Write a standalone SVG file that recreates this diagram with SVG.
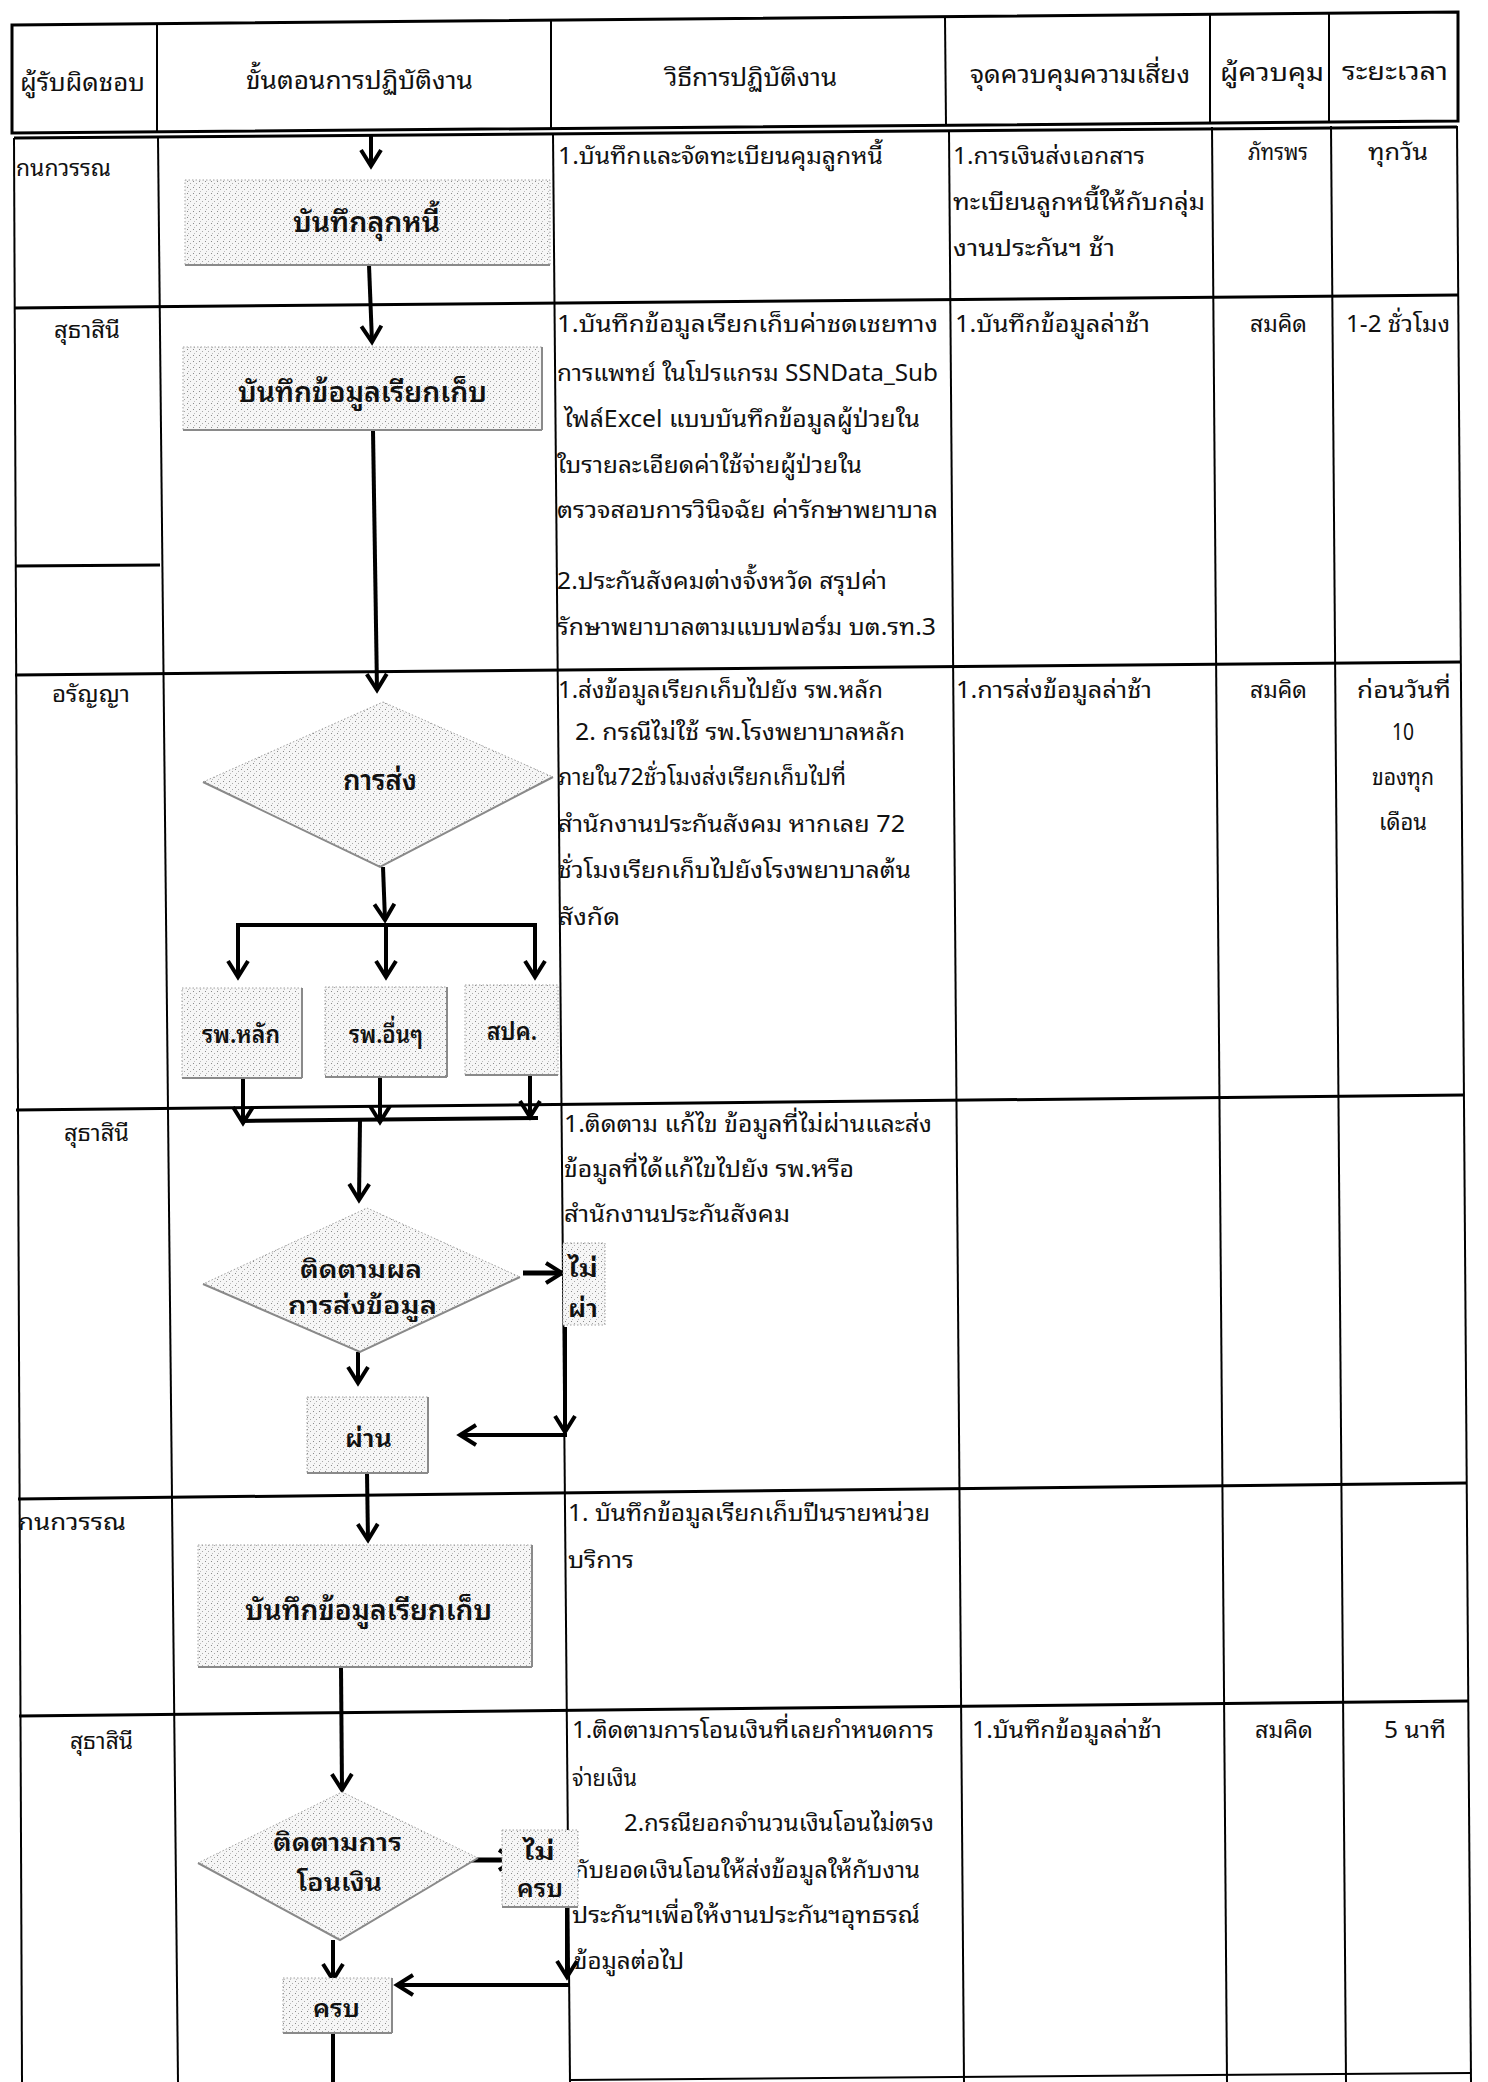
<svg xmlns="http://www.w3.org/2000/svg" width="1488" height="2082" viewBox="0 0 1488 2082">
<style>
text{font-family:'Noto Sans Thai Looped','Noto Sans Thai','Noto Sans','DejaVu Sans',sans-serif;fill:#111}
.hd{font-size:25px}
.tx{font-size:23px}
.nd{font-size:28px;font-weight:600}
.nd2{font-size:25px;font-weight:600}
.ns{font-size:25px;font-weight:600}
.g{stroke:#000;stroke-width:2;fill:none}
.gh{stroke:#000;stroke-width:3;fill:none}
.c{stroke:#000;stroke-width:4;fill:none}
.ca{stroke:#000;stroke-width:4;fill:none;marker-end:url(#ah)}
.box{fill:url(#stip);stroke:#a0a0a0;stroke-width:1;stroke-dasharray:1.5 2}
.sh{fill:none;stroke:#8a8a8a;stroke-width:2}
</style>
<defs>
<pattern id="stip" width="6" height="6" patternUnits="userSpaceOnUse">
<rect width="6" height="6" fill="#f6f6f6"/>
<rect x="1" y="1" width="1" height="1" fill="#8a8a8a"/>
<rect x="4" y="3" width="1" height="1" fill="#a8a8a8"/>
<rect x="2" y="5" width="1" height="1" fill="#bdbdbd"/>
</pattern>
<marker id="ah" viewBox="0 0 24 24" refX="20" refY="12" markerWidth="24" markerHeight="24" markerUnits="userSpaceOnUse" orient="auto">
<path d="M4,2 L20,12 L4,22" fill="none" stroke="#000" stroke-width="4"/>
</marker>
</defs>
<rect width="1488" height="2082" fill="#fff"/>

<g id="table">
<path class="gh" d="M12,25 L1458,12 L1458,121 L12,133 Z"/>
<line class="g" x1="157" y1="24" x2="157" y2="132"/>
<line class="g" x1="551" y1="21" x2="551" y2="129"/>
<line class="g" x1="945" y1="17" x2="946" y2="126"/>
<line class="g" x1="1210" y1="15" x2="1210" y2="123"/>
<line class="g" x1="1329" y1="14" x2="1329" y2="122"/>
<line class="gh" x1="14" y1="138" x2="1457" y2="127"/>
<line class="gh" x1="14" y1="308" x2="1458" y2="295"/>
<line class="gh" x1="15" y1="566" x2="160" y2="565"/>
<line class="gh" x1="15" y1="675" x2="1461" y2="662"/>
<line class="gh" x1="16" y1="1110" x2="1464" y2="1095"/>
<line class="gh" x1="18" y1="1499" x2="1467" y2="1483"/>
<line class="gh" x1="19" y1="1716" x2="1468" y2="1701"/>
<line class="g" x1="570" y1="2080" x2="1471" y2="2073"/>
<line class="g" x1="14" y1="138" x2="22" y2="2082"/>
<line class="g" x1="158" y1="138" x2="178" y2="2082"/>
<line class="g" x1="553" y1="133" x2="570" y2="2082"/>
<line class="g" x1="949" y1="130" x2="964" y2="2082"/>
<line class="g" x1="1212" y1="127" x2="1227" y2="2082"/>
<line class="g" x1="1331" y1="126" x2="1346" y2="2082"/>
<line class="g" x1="1457" y1="126" x2="1471" y2="2082"/>
</g>

<g id="header-text" class="hd">
<text x="20" y="91" textLength="125" lengthAdjust="spacingAndGlyphs">ผู้รับผิดชอบ</text>
<text x="246" y="89" textLength="227" lengthAdjust="spacingAndGlyphs">ขั้นตอนการปฏิบัติงาน</text>
<text x="665" y="86" textLength="172" lengthAdjust="spacingAndGlyphs">วิธีการปฏิบัติงาน</text>
<text x="970" y="83" textLength="220" lengthAdjust="spacingAndGlyphs">จุดควบคุมความเสี่ยง</text>
<text x="1220" y="81" textLength="104" lengthAdjust="spacingAndGlyphs">ผู้ควบคุม</text>
<text x="1342" y="80" textLength="106" lengthAdjust="spacingAndGlyphs">ระยะเวลา</text>
</g>

<g id="cell-text" class="tx">
<text x="16" y="176" textLength="95" lengthAdjust="spacingAndGlyphs">กนกวรรณ</text>
<text x="558" y="164" textLength="325" lengthAdjust="spacingAndGlyphs">1.บันทึกและจัดทะเบียนคุมลูกหนี้</text>
<text x="953" y="164" textLength="192" lengthAdjust="spacingAndGlyphs">1.การเงินส่งเอกสาร</text>
<text x="953" y="210" textLength="252" lengthAdjust="spacingAndGlyphs">ทะเบียนลูกหนี้ให้กับกลุ่ม</text>
<text x="953" y="256" textLength="162" lengthAdjust="spacingAndGlyphs">งานประกันฯ ช้า</text>
<text x="1248" y="160" textLength="60" lengthAdjust="spacingAndGlyphs">ภัทรพร</text>
<text x="1368" y="160" textLength="60" lengthAdjust="spacingAndGlyphs">ทุกวัน</text>
<text x="54" y="338" textLength="66" lengthAdjust="spacingAndGlyphs">สุธาสินี</text>
<text x="557" y="332" textLength="381" lengthAdjust="spacingAndGlyphs">1.บันทึกข้อมูลเรียกเก็บค่าชดเชยทาง</text>
<text x="557" y="381" textLength="381" lengthAdjust="spacingAndGlyphs">การแพทย์ ในโปรแกรม SSNData_Sub</text>
<text x="564" y="427" textLength="356" lengthAdjust="spacingAndGlyphs">ไฟล์Excel แบบบันทึกข้อมูลผู้ป่วยใน</text>
<text x="557" y="473" textLength="305" lengthAdjust="spacingAndGlyphs">ใบรายละเอียดค่าใช้จ่ายผู้ป่วยใน</text>
<text x="557" y="518" textLength="381" lengthAdjust="spacingAndGlyphs">ตรวจสอบการวินิจฉัย ค่ารักษาพยาบาล</text>
<text x="557" y="589" textLength="330" lengthAdjust="spacingAndGlyphs">2.ประกันสังคมต่างจั้งหวัด สรุปค่า</text>
<text x="557" y="635" textLength="379" lengthAdjust="spacingAndGlyphs">รักษาพยาบาลตามแบบฟอร์ม บต.รท.3</text>
<text x="955" y="332" textLength="195" lengthAdjust="spacingAndGlyphs">1.บันทึกข้อมูลล่าช้า</text>
<text x="1250" y="332" textLength="57" lengthAdjust="spacingAndGlyphs">สมคิด</text>
<text x="1346" y="332" textLength="104" lengthAdjust="spacingAndGlyphs">1-2 ชั่วโมง</text>
<text x="52" y="702" textLength="78" lengthAdjust="spacingAndGlyphs">อรัญญา</text>
<text x="558" y="698" textLength="325" lengthAdjust="spacingAndGlyphs">1.ส่งข้อมูลเรียกเก็บไปยัง รพ.หลัก</text>
<text x="575" y="740" textLength="330" lengthAdjust="spacingAndGlyphs">2. กรณีไม่ใช้ รพ.โรงพยาบาลหลัก</text>
<text x="558" y="785" textLength="288" lengthAdjust="spacingAndGlyphs">ภายใน72ชั่วโมงส่งเรียกเก็บไปที่</text>
<text x="558" y="832" textLength="347" lengthAdjust="spacingAndGlyphs">สำนักงานประกันสังคม หากเลย 72</text>
<text x="558" y="878" textLength="353" lengthAdjust="spacingAndGlyphs">ชั่วโมงเรียกเก็บไปยังโรงพยาบาลต้น</text>
<text x="558" y="925" textLength="62" lengthAdjust="spacingAndGlyphs">สังกัด</text>
<text x="956" y="698" textLength="196" lengthAdjust="spacingAndGlyphs">1.การส่งข้อมูลล่าช้า</text>
<text x="1250" y="698" textLength="57" lengthAdjust="spacingAndGlyphs">สมคิด</text>
<text x="1357" y="698" textLength="94" lengthAdjust="spacingAndGlyphs">ก่อนวันที่</text>
<text x="1392" y="740" textLength="22" lengthAdjust="spacingAndGlyphs">10</text>
<text x="1372" y="785" textLength="62" lengthAdjust="spacingAndGlyphs">ของทุก</text>
<text x="1379" y="830" textLength="48" lengthAdjust="spacingAndGlyphs">เดือน</text>
<text x="64" y="1141" textLength="65" lengthAdjust="spacingAndGlyphs">สุธาสินี</text>
<text x="564" y="1132" textLength="368" lengthAdjust="spacingAndGlyphs">1.ติดตาม แก้ไข ข้อมูลที่ไม่ผ่านและส่ง</text>
<text x="564" y="1177" textLength="290" lengthAdjust="spacingAndGlyphs">ข้อมูลที่ได้แก้ไขไปยัง รพ.หรือ</text>
<text x="564" y="1222" textLength="226" lengthAdjust="spacingAndGlyphs">สำนักงานประกันสังคม</text>
<text x="18" y="1530" textLength="108" lengthAdjust="spacingAndGlyphs">กนกวรรณ</text>
<text x="568" y="1521" textLength="362" lengthAdjust="spacingAndGlyphs">1. บันทึกข้อมูลเรียกเก็บปีนรายหน่วย</text>
<text x="568" y="1568" textLength="66" lengthAdjust="spacingAndGlyphs">บริการ</text>
<text x="70" y="1749" textLength="63" lengthAdjust="spacingAndGlyphs">สุธาสินี</text>
<text x="572" y="1738" textLength="362" lengthAdjust="spacingAndGlyphs">1.ติดตามการโอนเงินที่เลยกำหนดการ</text>
<text x="572" y="1786" textLength="65" lengthAdjust="spacingAndGlyphs">จ่ายเงิน</text>
<text x="624" y="1831" textLength="310" lengthAdjust="spacingAndGlyphs">2.กรณียอกจำนวนเงินโอนไม่ตรง</text>
<text x="574" y="1878" textLength="346" lengthAdjust="spacingAndGlyphs">กับยอดเงินโอนให้ส่งข้อมูลให้กับงาน</text>
<text x="572" y="1923" textLength="348" lengthAdjust="spacingAndGlyphs">ประกันฯเพื่อให้งานประกันฯอุทธรณ์</text>
<text x="574" y="1969" textLength="110" lengthAdjust="spacingAndGlyphs">ข้อมูลต่อไป</text>
<text x="972" y="1738" textLength="190" lengthAdjust="spacingAndGlyphs">1.บันทึกข้อมูลล่าช้า</text>
<text x="1255" y="1738" textLength="58" lengthAdjust="spacingAndGlyphs">สมคิด</text>
<text x="1384" y="1738" textLength="62" lengthAdjust="spacingAndGlyphs">5 นาที</text>
</g>

<g id="connectors">
<line class="ca" x1="371" y1="136" x2="371" y2="166"/>
<line class="ca" x1="369" y1="265" x2="372" y2="342"/>
<line class="ca" x1="373" y1="430" x2="377" y2="690"/>
<line class="ca" x1="383" y1="867" x2="385" y2="920"/>
<line class="c" x1="236" y1="925" x2="537" y2="925"/>
<line class="ca" x1="238" y1="925" x2="238" y2="977"/>
<line class="ca" x1="386" y1="925" x2="386" y2="977"/>
<line class="ca" x1="535" y1="925" x2="535" y2="977"/>
<line class="ca" x1="243" y1="1078" x2="243" y2="1123"/>
<line class="ca" x1="380" y1="1077" x2="380" y2="1122"/>
<line class="ca" x1="530" y1="1075" x2="530" y2="1117"/>
<line class="c" x1="241" y1="1121" x2="538" y2="1118"/>
<line class="ca" x1="360" y1="1120" x2="359" y2="1200"/>
<line class="ca" x1="523" y1="1273" x2="562" y2="1273" style="stroke-width:5"/>
<line class="ca" x1="565" y1="1327" x2="565" y2="1432"/>
<line class="ca" x1="567" y1="1435" x2="460" y2="1435"/>
<line class="ca" x1="358" y1="1352" x2="358" y2="1383"/>
<line class="ca" x1="367" y1="1473" x2="368" y2="1540"/>
<line class="ca" x1="341" y1="1667" x2="342" y2="1790"/>
<line class="ca" x1="465" y1="1860" x2="515" y2="1860" style="stroke-width:5"/>
<line class="ca" x1="567" y1="1907" x2="567" y2="1977"/>
<line class="ca" x1="569" y1="1985" x2="397" y2="1985"/>
<line class="ca" x1="333" y1="1940" x2="333" y2="1980"/>
<line class="c" x1="333" y1="2033" x2="333" y2="2082"/>
</g>

<g id="n-record-debtor">
<rect class="box" x="185" y="180" width="365" height="85"/>
<line class="sh" x1="185" y1="265" x2="550" y2="265"/>
<text class="nd" x="293" y="232" textLength="147" lengthAdjust="spacingAndGlyphs">บันทึกลุกหนี้</text>
</g>
<g id="n-record-claim-1">
<rect class="box" x="183" y="347" width="359" height="83"/>
<line class="sh" x1="183" y1="430" x2="542" y2="430"/>
<line class="sh" x1="542" y1="347" x2="542" y2="430"/>
<text class="nd" x="238" y="402" textLength="249" lengthAdjust="spacingAndGlyphs">บันทึกข้อมูลเรียกเก็บ</text>
</g>
<g id="n-send">
<polygon class="box" points="383,702 553,777 380,867 203,782"/>
<polyline class="sh" points="203,782 380,867 553,777"/>
<text class="nd" x="343" y="790" textLength="74" lengthAdjust="spacingAndGlyphs">การส่ง</text>
</g>
<g id="n-main-hosp">
<rect class="box" x="182" y="988" width="120" height="90"/>
<line class="sh" x1="182" y1="1078" x2="302" y2="1078"/>
<line class="sh" x1="302" y1="988" x2="302" y2="1078"/>
<text class="ns" x="202" y="1043" textLength="78" lengthAdjust="spacingAndGlyphs">รพ.หลัก</text>
</g>
<g id="n-other-hosp">
<rect class="box" x="325" y="987" width="122" height="90"/>
<line class="sh" x1="325" y1="1077" x2="447" y2="1077"/>
<line class="sh" x1="447" y1="987" x2="447" y2="1077"/>
<text class="ns" x="349" y="1043" textLength="74" lengthAdjust="spacingAndGlyphs">รพ.อื่นๆ</text>
</g>
<g id="n-spk">
<rect class="box" x="465" y="985" width="93" height="90"/>
<line class="sh" x1="465" y1="1075" x2="558" y2="1075"/>
<text class="ns" x="487" y="1040" textLength="50" lengthAdjust="spacingAndGlyphs">สปค.</text>
</g>
<g id="n-track-send">
<polygon class="box" points="367,1208 520,1277 360,1352 203,1284"/>
<polyline class="sh" points="203,1284 360,1352 520,1277"/>
<text class="nd2" x="300" y="1278" textLength="122" lengthAdjust="spacingAndGlyphs">ติดตามผล</text>
<text class="nd2" x="288" y="1314" textLength="149" lengthAdjust="spacingAndGlyphs">การส่งข้อมูล</text>
</g>
<g id="n-fail">
<rect class="box" x="563" y="1243" width="42" height="82"/>
<text class="ns" x="568" y="1277" textLength="30" lengthAdjust="spacingAndGlyphs">ไม่</text>
<text class="ns" x="568" y="1317" textLength="30" lengthAdjust="spacingAndGlyphs">ผ่า</text>
</g>
<g id="n-pass">
<rect class="box" x="307" y="1397" width="121" height="76"/>
<line class="sh" x1="307" y1="1473" x2="428" y2="1473"/>
<line class="sh" x1="428" y1="1397" x2="428" y2="1473"/>
<text class="ns" x="345" y="1447" textLength="47" lengthAdjust="spacingAndGlyphs">ผ่าน</text>
</g>
<g id="n-record-claim-2">
<rect class="box" x="198" y="1545" width="334" height="122"/>
<line class="sh" x1="198" y1="1667" x2="532" y2="1667"/>
<line class="sh" x1="532" y1="1545" x2="532" y2="1667"/>
<text class="nd" x="245" y="1620" textLength="247" lengthAdjust="spacingAndGlyphs">บันทึกข้อมูลเรียกเก็บ</text>
</g>
<g id="n-track-transfer">
<polygon class="box" points="342,1792 478,1858 340,1940 198,1863"/>
<polyline class="sh" points="198,1863 340,1940 478,1858"/>
<text class="nd2" x="273" y="1851" textLength="129" lengthAdjust="spacingAndGlyphs">ติดตามการ</text>
<text class="nd2" x="297" y="1891" textLength="85" lengthAdjust="spacingAndGlyphs">โอนเงิน</text>
</g>
<g id="n-incomplete">
<rect class="box" x="502" y="1830" width="76" height="77"/>
<line class="sh" x1="502" y1="1907" x2="578" y2="1907"/>
<text class="ns" x="523" y="1860" textLength="32" lengthAdjust="spacingAndGlyphs">ไม่</text>
<text class="ns" x="517" y="1897" textLength="46" lengthAdjust="spacingAndGlyphs">ครบ</text>
</g>
<g id="n-complete">
<rect class="box" x="283" y="1978" width="109" height="55"/>
<line class="sh" x1="283" y1="2033" x2="392" y2="2033"/>
<line class="sh" x1="392" y1="1978" x2="392" y2="2033"/>
<text class="ns" x="313" y="2017" textLength="47" lengthAdjust="spacingAndGlyphs">ครบ</text>
</g>
</svg>
